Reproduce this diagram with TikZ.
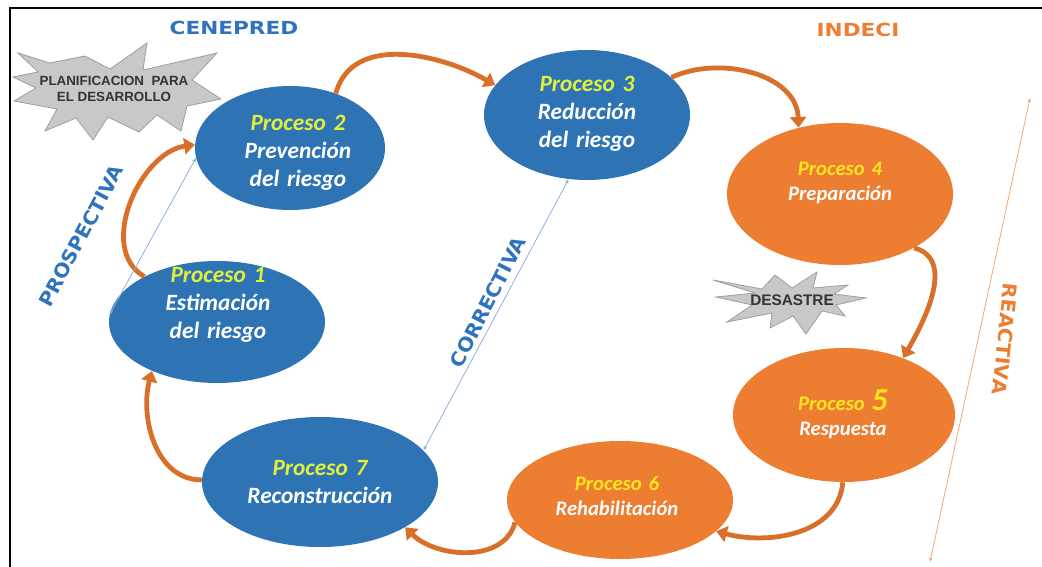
\documentclass[tikz,border=0pt]{standalone}
\usepackage{fontspec}
\setmainfont{Carlito}
\newfontfamily\headfont{DejaVu Sans}
\newfontfamily\burstfont{Liberation Sans}
\usetikzlibrary{shapes.geometric,arrows.meta}
\definecolor{pblue}{HTML}{2E74B5}
\definecolor{porange}{HTML}{ED7D31}
\definecolor{darrow}{HTML}{D9702A}
\definecolor{lime}{HTML}{E2F03A}
\definecolor{gold}{HTML}{FFE520}
\definecolor{lblue}{HTML}{8DB1DE}
\definecolor{lorange}{HTML}{F3A66F}
\definecolor{labblue}{HTML}{2F72BE}
\definecolor{stargray}{HTML}{C8C8C8}

\begin{document}
\begin{tikzpicture}[x=0.75pt,y=0.75pt,yscale=-1,
	proc/.style={ellipse,inner sep=0pt},
	blueproc/.style={proc,fill=pblue},
	orangeproc/.style={proc,fill=porange},
	bluetext/.style={text=white,text width=150pt,align=center,font=\fontsize{17.5}{21}\selectfont\bfseries\itshape},
	orangetext/.style={text=white,text width=150pt,align=center,font=\fontsize{15.5}{19}\selectfont\bfseries\itshape},
	cycarrow/.style={darrow,line width=3.6pt,-{Triangle[width=12pt,length=8pt]}},
	axisline/.style={line width=0.6pt,{Latex[length=3pt,width=3pt]}-{Latex[length=3pt,width=3pt]}},
	axislabel/.style={font=\headfont\bfseries\fontsize{14.5}{16}\selectfont,xscale=1.05},
	titlelabel/.style={font=\headfont\bfseries\fontsize{13.5}{16}\selectfont,xscale=1.2},
	burst/.style={fill=stargray,draw=gray!75,line width=0.6pt},
	bursttext/.style={font=\burstfont\bfseries\fontsize{10}{12}\selectfont,text=black!80,align=center}]
	\useasboundingbox (0,0) rectangle (1042,567);
	\draw[line width=0.9pt] (10,567) -- (10,8) -- (1042,8);

	% procesos
	\node[blueproc,minimum width=142.5pt,minimum height=93pt] (p2) at (290,148) {};
	\node[blueproc,minimum width=154.5pt,minimum height=97.5pt] (p3) at (587,115) {};
	\node[orangeproc,minimum width=169.5pt,minimum height=106.5pt] (p4) at (840,194) {};
	\node[blueproc,minimum width=162pt,minimum height=91.5pt] (p1) at (217,322) {};
	\node[blueproc,minimum width=177pt,minimum height=97.5pt] (p7) at (320,482) {};
	\node[orangeproc,minimum width=169.5pt,minimum height=88.5pt] (p6) at (620,500) {};
	\node[orangeproc,minimum width=166.5pt,minimum height=100.5pt] (p5) at (844,415) {};

	\node[bluetext] (t2) at (298,153) {\textcolor{lime}{Proceso 2}\\Prevención\\del riesgo};
	\node[bluetext] (t3) at (587,114) {\textcolor{lime}{Proceso 3}\\Reducción\\del riesgo};
	\node[orangetext] (t4) at (840,183) {\textcolor{gold}{Proceso 4}\\Preparación};
	\node[bluetext] (t1) at (218,305) {\textcolor{lime}{Proceso 1}\\Estimación\\del riesgo};
	\node[bluetext] (t7) at (320,482) {\textcolor{lime}{Proceso 7}\\Reconstrucción};
	\node[orangetext] (t6) at (617,496) {\textcolor{gold}{Proceso 6}\\Rehabilitación};
	\node[orangetext] (t5) at (843,414) {\textcolor{gold}{Proceso {\fontsize{24}{24}\selectfont 5}}\\Respuesta};

	% ciclo
	\draw[cycarrow] (p2.50) to[out=-75,in=-150] (p3.162);
	\draw[cycarrow] (p3.24) to[out=-25,in=-92] (p4.122);
	\draw[cycarrow] (p4.-36) to[out=15,in=-60] (p5.44);
	\draw[cycarrow] (p5.-91) to[out=95,in=15] (p6.-18);
	\draw[cycarrow] (p6.-168) to[out=105,in=45] (p7.-28);
	\draw[cycarrow] (p7.179) to[out=180,in=105] (p1.-143);
	\draw[cycarrow] (p1.148) to[out=-150,in=172] (p2.178);

	% gestion
	\draw[axisline,lblue] (p1.176) -- (p2.186);
	\draw[axisline,lblue] (p7.17) -- (p3.-106);
	\coordinate (rtop) at (1030,98);
	\coordinate (rbot) at (930,562);
	\draw[axisline,lorange] (rtop) -- (rbot);

	\node[rotate=62,axislabel,text=labblue] (prosp) at (81,236) {PROSPECTIVA};
	\node[rotate=63,axislabel,text=labblue] (correc) at (488,302) {CORRECTIVA};
	\node[rotate=-96,axislabel,text=porange] (react) at (1005,339) {REACTIVA};
	\node[titlelabel,text=labblue] (cenepred) at (234,28) {CENEPRED};
	\node[titlelabel,text=porange] (indeci) at (858,30) {INDECI};

	% estrellas
	\draw[burst] (18,53) -- (50,63) -- (85,56) -- (110,69) -- (147,43) -- (143,70) -- (217,53) -- (192,80)
		-- (221,99) -- (187,106) -- (181,131) -- (157,115) -- (139,132) -- (108,117) -- (93,140)
		-- (76,118) -- (45,131) -- (57,109) -- (14,101) -- (36,88) -- (13,77) -- (38,72) -- cycle;
	\node[bursttext] (plan) at (114,89) {PLANIFICACION\ \ PARA\\EL DESARROLLO};
	\draw[burst] (713,280) -- (762,289) -- (775,275) -- (792,288) -- (817,272) -- (813,288) -- (848,285)
		-- (834,294) -- (866,298) -- (836,305) -- (845,316) -- (822,311) -- (806,334) -- (793,316)
		-- (770,328) -- (772,313) -- (727,322) -- (752,305) -- (716,297) -- (755,293) -- cycle;
	\node[bursttext,font=\burstfont\bfseries\fontsize{11.5}{13}\selectfont] (desastre) at (792,300) {DESASTRE};
\end{tikzpicture}
\end{document}
